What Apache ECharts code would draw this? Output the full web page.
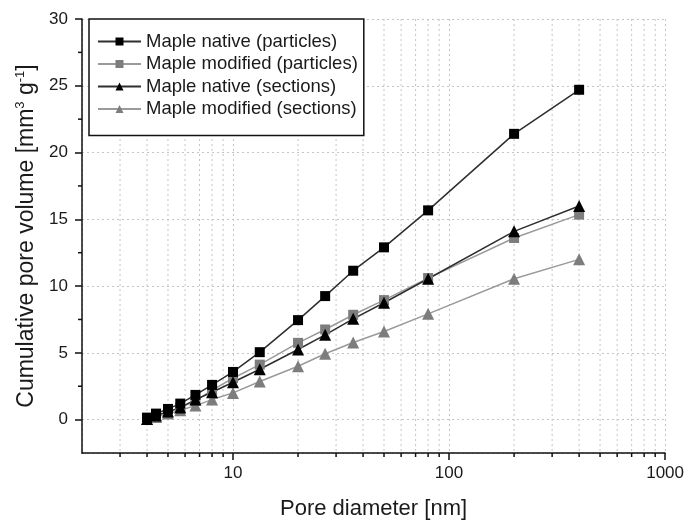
<!DOCTYPE html>
<html>
<head>
<meta charset="utf-8">
<script src="https://cdn.jsdelivr.net/npm/echarts@6/dist/echarts.min.js"></script>
<style>
html,body{margin:0;padding:0;background:#fff;}
#chart{width:687px;height:525px;}
</style>
</head>
<body>
<div id="chart"></div>
<script>
const poreDiameter = [4, 4.4, 5, 5.7, 6.7, 8, 10, 13.3, 20, 26.7, 36, 50, 80, 200, 400];
const nativeParticles = [0.15, 0.45, 0.8, 1.2, 1.85, 2.6, 3.57, 5.05, 7.45, 9.25, 11.15, 12.9, 15.67, 21.4, 24.7];
const modifiedParticles = [0.1, 0.3, 0.55, 0.9, 1.4, 2.2, 3.1, 4.12, 5.75, 6.75, 7.85, 8.95, 10.6, 13.6, 15.35];
const nativeSections = [0.05, 0.3, 0.6, 0.9, 1.5, 2.05, 2.8, 3.77, 5.25, 6.35, 7.55, 8.75, 10.55, 14.1, 16.0];
const modifiedSections = [0.05, 0.2, 0.45, 0.7, 1.05, 1.5, 2.0, 2.85, 4.0, 4.93, 5.78, 6.6, 7.92, 10.55, 12.0];
const seriesNames = ['Maple native (particles)', 'Maple modified (particles)', 'Maple native (sections)', 'Maple modified (sections)'];
const xMinorTicks = [3,4,5,6,7,8,9,20,30,40,50,60,70,80,90,200,300,400,500,600,700,800,900];
const yMinorTicks = [2.5, 7.5, 12.5, 17.5, 22.5, 27.5];

const pairs = ys => poreDiameter.map((x, i) => [x, ys[i]]);
const FONT = 'Liberation Sans, Arial, sans-serif';
const GRID_COLOR = '#c4c4c4';

function mkSeries(name, ys, symbol, markerColor, lineColor, size) {
  return {
    name: name, type: 'line', data: pairs(ys),
    symbol: symbol, symbolSize: size,
    itemStyle: { color: markerColor },
    lineStyle: { color: lineColor, width: 1.5 },
    z: 5, animation: false
  };
}

const chart = echarts.init(document.getElementById('chart'), null, { renderer: 'canvas' });
chart.setOption({
  animation: false,
  backgroundColor: '#fff',
  textStyle: { fontFamily: FONT },
  grid: { left: 82, right: 21, top: 19, bottom: 72, containLabel: false },
  legend: {
    data: seriesNames,
    orient: 'vertical',
    left: 89, top: 19,
    padding: [13, 6, 17, 8],
    itemGap: 3.5,
    itemWidth: 43, itemHeight: 10,
    borderColor: '#111', borderWidth: 1.5,
    backgroundColor: '#fff',
    textStyle: { fontFamily: FONT, fontSize: 18.5, color: '#1a1a1a', lineHeight: 19 }
  },
  xAxis: {
    type: 'log', logBase: 10, min: 2, max: 1000,
    name: 'Pore diameter [nm]', nameLocation: 'middle', nameGap: 45,
    nameTextStyle: { fontFamily: FONT, fontSize: 22, color: '#1a1a1a' },
    axisLine: { show: true, onZero: false, lineStyle: { color: '#111', width: 1.5 } },
    axisTick: { show: true, length: 7, lineStyle: { color: '#111', width: 1.5 } },
    axisLabel: { fontFamily: FONT, fontSize: 17, color: '#1a1a1a', margin: 12, showMinLabel: false,
      formatter: v => String(Math.round(v)) },
    splitLine: { show: true, lineStyle: { color: GRID_COLOR, type: [2, 3], width: 1 } },
    minorTick: { show: false }
  },
  yAxis: {
    type: 'value', min: -2.5, max: 30, splitNumber: 7,
    name: 'Cumulative pore volume [mm{sup|3} g{sup|-1}]',
    nameLocation: 'middle', nameGap: 42,
    nameTextStyle: { fontFamily: FONT, fontSize: 23, color: '#1a1a1a',
      rich: { sup: { fontFamily: FONT, fontSize: 13, color: '#1a1a1a', verticalAlign: 'top', padding: [0, 0, 12, 0] } } },
    axisLine: { show: true, onZero: false, lineStyle: { color: '#111', width: 1.5 } },
    axisTick: { show: true, length: 7, lineStyle: { color: '#111', width: 1.5 } },
    axisLabel: { fontFamily: FONT, fontSize: 17, color: '#1a1a1a', margin: 14, showMinLabel: false },
    splitLine: { show: true, lineStyle: { color: GRID_COLOR, type: [2, 3], width: 1 } }
  },
  series: [
    {
      name: 'xminor', type: 'custom', silent: true, z: 1, animation: false,
      data: xMinorTicks.map(v => [v, 0]),
      renderItem: function (params, api) {
        const cs = params.coordSys;
        const p = api.coord([api.value(0), 0]);
        const bottom = cs.y + cs.height;
        return { type: 'group', children: [
          { type: 'line', shape: { x1: p[0], y1: cs.y, x2: p[0], y2: bottom },
            style: { stroke: GRID_COLOR, lineWidth: 1, lineDash: [2, 3] } },
          { type: 'line', shape: { x1: p[0], y1: bottom, x2: p[0], y2: bottom + 4 },
            style: { stroke: '#111', lineWidth: 1.5 } }
        ]};
      }
    },
    {
      name: 'yminor', type: 'custom', silent: true, z: 1, animation: false,
      data: yMinorTicks.map(v => [10, v]),
      renderItem: function (params, api) {
        const cs = params.coordSys;
        const p = api.coord([10, api.value(1)]);
        return { type: 'line', shape: { x1: cs.x - 4, y1: p[1], x2: cs.x, y2: p[1] },
          style: { stroke: '#111', lineWidth: 1.5 } };
      }
    },
    mkSeries(seriesNames[3], modifiedSections, 'triangle', '#7d7d7d', '#9a9a9a', 12),
    mkSeries(seriesNames[1], modifiedParticles, 'rect', '#7d7d7d', '#9a9a9a', 10),
    mkSeries(seriesNames[2], nativeSections, 'triangle', '#000', '#2e2e2e', 12),
    mkSeries(seriesNames[0], nativeParticles, 'rect', '#000', '#2e2e2e', 10)
  ]
});
</script>
</body>
</html>
